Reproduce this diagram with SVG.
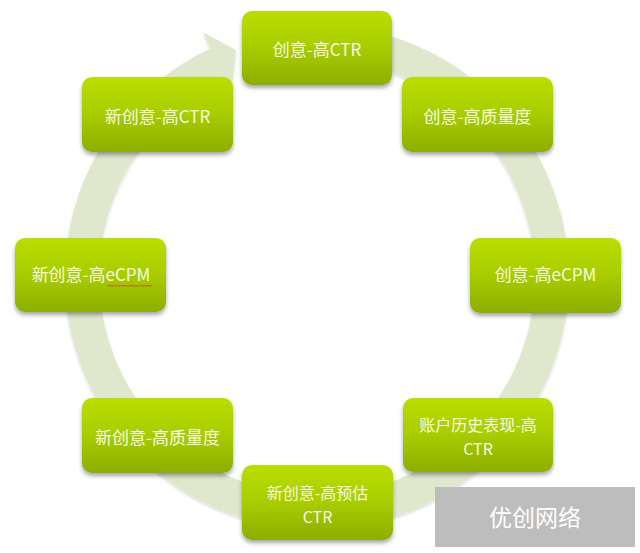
<svg xmlns="http://www.w3.org/2000/svg" width="640" height="553" viewBox="0 0 640 553">
<defs>
<linearGradient id="g" x1="0" y1="0" x2="0" y2="1">
<stop offset="0" stop-color="#bade06"/>
<stop offset="0.5" stop-color="#a8cc00"/>
<stop offset="1" stop-color="#8cae00"/>
</linearGradient>
<filter id="sh" x="-10%" y="-10%" width="120%" height="130%">
<feGaussianBlur in="SourceAlpha" stdDeviation="2"/>
<feOffset dx="0" dy="3" result="b"/>
<feComponentTransfer><feFuncA type="linear" slope="0.35"/></feComponentTransfer>
<feMerge><feMergeNode/><feMergeNode in="SourceGraphic"/></feMerge>
</filter>
<filter id="rs" x="-5%" y="-5%" width="110%" height="110%">
<feGaussianBlur in="SourceAlpha" stdDeviation="1.5"/>
<feOffset dx="0" dy="2"/>
<feComponentTransfer><feFuncA type="linear" slope="0.15"/></feComponentTransfer>
<feMerge><feMergeNode/><feMergeNode in="SourceGraphic"/></feMerge>
</filter>
</defs>
<style>
.n{fill:url(#g);filter:url(#sh);}
.t{font-family:"Noto Sans CJK SC","Noto Sans",sans-serif;font-size:17px;fill:#f6fbe2;text-anchor:middle;}
.t2{font-family:"Noto Sans CJK SC","Noto Sans",sans-serif;font-size:16px;fill:#f6fbe2;text-anchor:middle;}
.w{font-family:"Noto Sans CJK SC","Noto Sans",sans-serif;font-size:23px;fill:#ffffff;text-anchor:middle;}
</style>
<rect width="640" height="553" fill="#ffffff"/>
<g id="connectors">
<path d="M 295,26 A 252 252 0 1 1 210.5,48.6 L 203,32.3 L 236,50 L 231,96 L 224.9,79.4 A 218 218 0 1 0 298,59.8 Z" fill="#dfe7cd" filter="url(#rs)"/>
</g>
<g id="n1"><rect class="n" x="242" y="11" width="150" height="74" rx="10"/><text class="t" x="317" y="56">创意-高CTR</text></g>
<g id="n2"><rect class="n" x="402" y="77" width="151" height="75" rx="10"/><text class="t" x="477.5" y="123">创意-高质量度</text></g>
<g id="n3"><rect class="n" x="470" y="238" width="151" height="75" rx="10"/><text class="t" x="545.5" y="281">创意-高eCPM</text></g>
<g id="n4"><rect class="n" x="403" y="398" width="150" height="74" rx="10"/><text class="t2" x="478" y="431">账户历史表现-高</text><text class="t2" x="478" y="455">CTR</text></g>
<g id="n5"><rect class="n" x="242" y="465" width="151" height="75" rx="10"/><text class="t2" x="317.5" y="499">新创意-高预估</text><text class="t2" x="317.5" y="523">CTR</text></g>
<g id="n6"><rect class="n" x="82" y="398" width="151" height="75" rx="10"/><text class="t" x="157.5" y="444">新创意-高质量度</text></g>
<g id="n7"><rect class="n" x="15" y="238" width="151" height="74" rx="10"/><text class="t" x="91" y="281">新创意-高eCPM</text>
<path d="M107,286.5 l1.5,-1.5 1.5,1.5 1.5,-1.5 1.5,1.5 1.5,-1.5 1.5,1.5 1.5,-1.5 1.5,1.5 1.5,-1.5 1.5,1.5 1.5,-1.5 1.5,1.5 1.5,-1.5 1.5,1.5 1.5,-1.5 1.5,1.5 1.5,-1.5 1.5,1.5 1.5,-1.5 1.5,1.5 1.5,-1.5 1.5,1.5 1.5,-1.5 1.5,1.5 1.5,-1.5 1.5,1.5 1.5,-1.5 1.5,1.5 1.5,-1.5 1.5,1.5" fill="none" stroke="#d83a2a" stroke-width="0.9"/></g>
<g id="n8"><rect class="n" x="82" y="77" width="151" height="75" rx="10"/><text class="t" x="157.5" y="123">新创意-高CTR</text></g>
<g id="watermark"><rect x="435" y="487" width="200" height="60" fill="#bdbdbd"/><text class="w" x="535" y="526">优创网络</text></g>
</svg>
